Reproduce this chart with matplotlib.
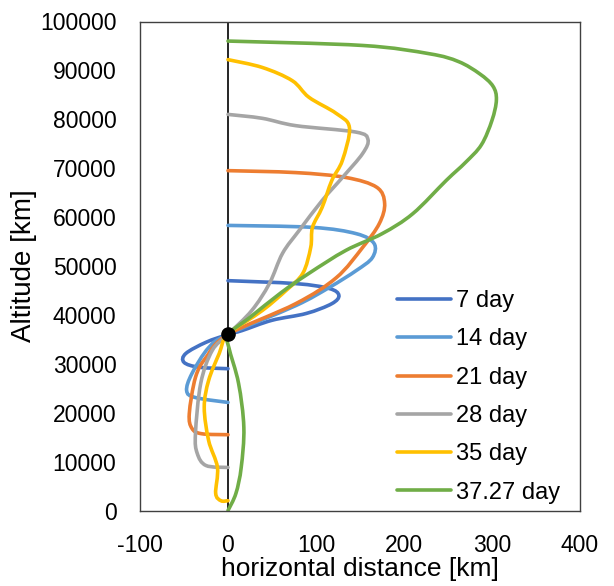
import matplotlib.pyplot as plt
from matplotlib.path import Path
from matplotlib.patches import PathPatch
from matplotlib.lines import Line2D

plt.rcParams['font.family'] = ['Liberation Sans', 'DejaVu Sans']
plt.rcParams['axes.unicode_minus'] = False

# each series: horizontal distance [km] and altitude [km], read from top to bottom
x7 = [0, 77, 115, 126, 118, 89, 50, 16, 0, -25, -48, -50, -33, 0]
y7 = [47000, 46400, 45400, 44000, 42300, 40300, 38900, 36800, 36000, 34400, 32100, 30300, 29300, 29000]

x14 = [0, 96, 146, 166, 164, 146, 115, 77, 0, -22, -41, -47, -37, 0]
y14 = [58300, 57900, 56600, 54600, 51700, 49100, 45600, 41900, 36000, 33300, 28000, 24500, 23100, 22100]

x21 = [0, 77, 134, 169, 178, 172, 153, 123, 77, 0, -25, -37, -44, -41, -30, 0]
y21 = [69500, 69100, 68100, 66100, 62800, 58700, 53800, 47600, 42300, 36000, 31300, 27200, 19800, 16800, 15700, 15500]

x28 = [0, 39, 77, 145, 159, 153, 130, 107, 81, 62, 47, 27, 0, -18, -31, -37, -35, -25, 0]
y28 = [81000, 80200, 78700, 77400, 75900, 73000, 68100, 63400, 57300, 52600, 46400, 40900, 36000, 32700, 26000, 15700, 11700, 9200, 8800]

x35 = [0, 39, 73, 92, 123, 138, 130, 118, 107, 96, 94, 85, 66, 39, 0, -10, -22, -27, -22, -12, -14, -8, 0]
y35 = [92200, 90600, 87900, 84500, 81200, 78300, 71600, 67500, 62000, 57900, 53800, 48500, 45000, 40900, 36000, 32100, 26600, 21100, 14300, 8800, 3500, 2000, 2000]

x37 = [0, 153, 229, 262, 286, 301, 305, 300, 288, 270, 248, 210, 175, 134, 92, 60, 25, 0, 1, 12, 18, 15, 9, 0]
y37 = [96000, 95100, 93400, 91800, 89300, 86800, 84000, 79800, 74800, 71200, 67500, 60700, 56600, 53200, 48500, 44500, 39500, 36000, 33300, 26000, 17000, 8800, 3500, 0]

labels = ['7 day', '14 day', '21 day', '28 day', '35 day', '37.27 day']
colors = ['#4472C4', '#5B9BD5', '#ED7D31', '#A5A5A5', '#FFC000', '#70AD47']
series = [(x7, y7), (x14, y14), (x21, y21), (x28, y28), (x35, y35), (x37, y37)]

dot_x = [0]
dot_y = [36000]


def smooth_path(xs, ys, sx, sy, t=1/6):
    # smoothed line like Excel, drawn as cubic Bezier pieces through the points
    pts = [(x * sx, y * sy) for x, y in zip(xs, ys)]
    verts = [pts[0]]
    codes = [Path.MOVETO]
    n = len(pts)
    for i in range(n - 1):
        p0 = pts[i - 1] if i > 0 else pts[i]
        p1 = pts[i]
        p2 = pts[i + 1]
        p3 = pts[i + 2] if i + 2 < n else pts[i + 1]
        c1 = (p1[0] + (p2[0] - p0[0]) * t, p1[1] + (p2[1] - p0[1]) * t)
        c2 = (p2[0] - (p3[0] - p1[0]) * t, p2[1] - (p3[1] - p1[1]) * t)
        verts += [c1, c2, p2]
        codes += [Path.CURVE4] * 3
    verts = [(vx / sx, vy / sy) for vx, vy in verts]
    return Path(verts, codes)


fig = plt.figure(figsize=(6.14, 5.86), dpi=100)
ax = fig.add_axes([140 / 614, 75.5 / 586, 440 / 614, 489 / 586])

ax.axvline(0, color='black', lw=1.2, zorder=1)

handles = []
for (xs, ys), c, lab in zip(series, colors, labels):
    p = smooth_path(xs, ys, 1.0, 0.004)
    ax.add_patch(PathPatch(p, fill=False, edgecolor=c, lw=2.6, capstyle='round', zorder=2))
    handles.append(Line2D([0], [0], color=c, lw=2.6, solid_capstyle='round', label=lab))

ax.plot(dot_x, dot_y, 'o', color='black', markersize=9.5, zorder=5)

ax.set_xlim(-100, 400)
ax.set_ylim(0, 100000)
ax.set_xticks([-100, 0, 100, 200, 300, 400])
ax.set_yticks(range(0, 100001, 10000))
ax.tick_params(axis='both', length=0, labelsize=16.5, colors='#000000')
ax.tick_params(axis='y', pad=17)
ax.tick_params(axis='x', pad=17)
for s in ax.spines.values():
    s.set_color('#404040')
    s.set_linewidth(1.0)

ax.set_xlabel('horizontal distance [km]', fontsize=19, labelpad=0)
ax.set_ylabel('Altitude [km]', fontsize=20, labelpad=2)

ax.legend(handles=handles, loc='lower left', bbox_to_anchor=((397 - 140) / 440, 0.014), frameon=False,
          fontsize=17, handlelength=2.3, handletextpad=0.22, labelspacing=0.69,
          borderpad=0, borderaxespad=0)

plt.savefig('out.png', dpi=100)
